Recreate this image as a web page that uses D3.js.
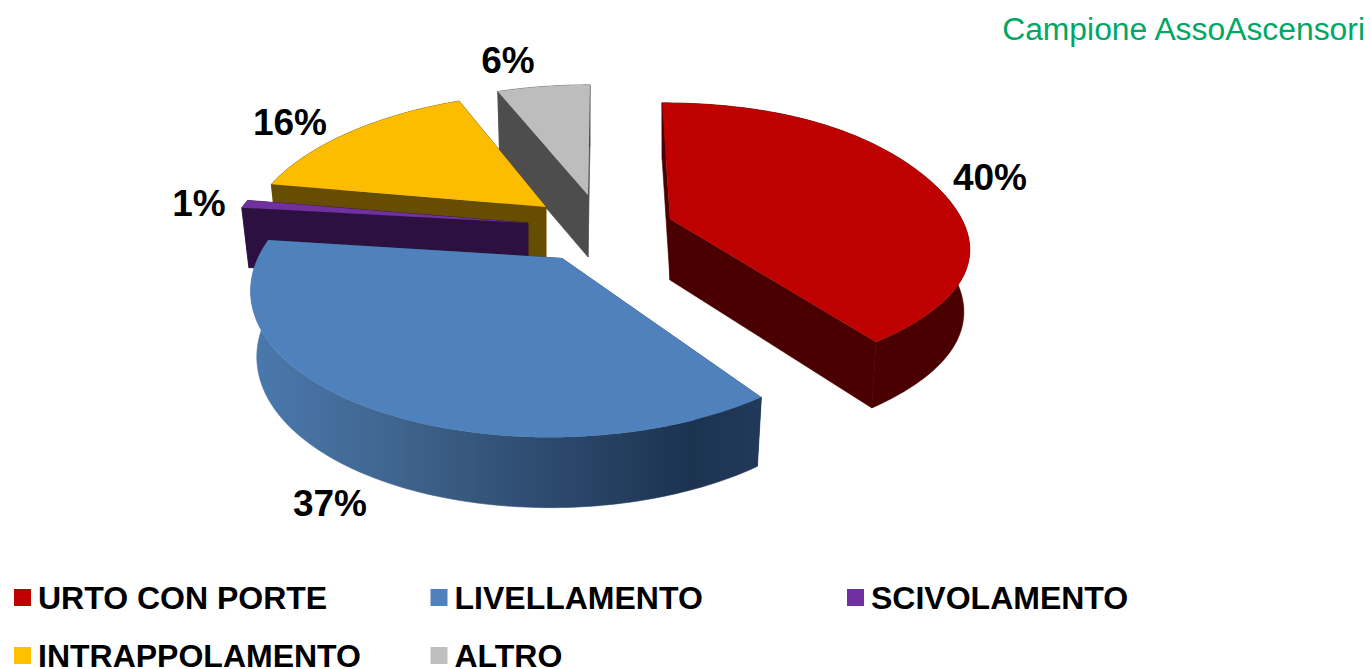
<!DOCTYPE html>
<html>
<head>
<meta charset="utf-8">
<script src="https://cdn.jsdelivr.net/npm/d3@7/dist/d3.min.js"></script>
<style>
  html, body { margin: 0; padding: 0; background: #fff; }
  svg { display: block; }
  text { font-family: "Liberation Sans", Arial, sans-serif; }
</style>
</head>
<body>
<svg id="chart" width="1371" height="669"></svg>
<script>
// Incident causes, share of the sample in percent
const categories = ["URTO CON PORTE", "LIVELLAMENTO", "SCIVOLAMENTO", "INTRAPPOLAMENTO", "ALTRO"];
const shares = [40, 37, 1, 16, 6];
const topColors = ["#bf0000", "#4f81bd", "#7030a0", "#fcbd00", "#bdbdbd"];
const wallColors = ["#4a0000", "url(#rimBlue)", "#2c1040", "#664d00", "#4d4d4d"];
const legendColors = ["#c00000", "#4f81bd", "#7030a0", "#ffc000", "#bfbfbf"];

// Exploded-wedge geometry: apex on screen, radii, lean, wall depth, rim fullness
const wedges = [
  { ax: 670, ay: 219, rx: 290, ry: 133.6, py: 0.15,  lean: 8,   drop: 61, bx: 0.98, by: 1.04, bulge: 0.012 },
  { ax: 562, ay: 258, rx: 304, ry: 147,   py: 0.18,  lean: -12, drop: 65, bx: 0.98,  by: 1.03, bulge: 0 },
  { ax: 528, ay: 223, rx: 295, ry: 125,   py: 0.18,  lean: 0,   drop: 60, bx: 0.975, by: 1,    bulge: 0 },
  { ax: 546, ay: 207, rx: 290, ry: 123,   py: 0.085, lean: -5,  drop: 52, bx: 0.98,  by: 1,    bulge: 0 },
  { ax: 588, ay: 195, rx: 292, ry: 130,   py: 0.18,  lean: -2,  drop: 62, bx: 0.98,  by: 1,    bulge: 0 }
];
const labelSpots = [[990, 190], [330, 516], [199, 216], [290, 135], [508, 73]];
const paintOrder = [4, 3, 2, 1, 0];
const perspective = 0.18;

const svg = d3.select("#chart");

// Shaded rim of the large front wedge
const rimStops = [
  [0, "#4b79ae"], [0.27, "#40668f"], [0.58, "#2d4a6e"], [0.86, "#1c3350"], [1, "#22395a"]
];
svg.append("defs").append("linearGradient")
  .attr("id", "rimBlue")
  .attr("gradientUnits", "userSpaceOnUse")
  .attr("x1", 250).attr("x2", 762).attr("y1", 0).attr("y2", 0)
  .selectAll("stop").data(rimStops).join("stop")
  .attr("offset", d => d[0])
  .attr("stop-color", d => d[1]);

const arcs = d3.pie().sort(null).value(d => d)(shares);
const line = d3.line().x(d => d[0]).y(d => d[1]);

// Project a point of the wedge's disc, angle clockwise from the rear, onto the page
function project(w, angle, radius, lower) {
  const u = radius * Math.sin(angle);
  const v = -radius * Math.cos(angle);
  const x = w.rx * u / (1 - perspective * v) + w.lean * v;
  const y = w.ry * v / (1 - w.py * v);
  return lower
    ? [w.ax + x * w.bx, w.ay + w.drop + y * w.by]
    : [w.ax + x, w.ay + y];
}

// Points along the outer edge; the fullness term swells the rim between the wedge's ends
function rimPoints(w, arc, lower) {
  return d3.range(0, 121).map(i => {
    const t = arc.startAngle + (arc.endAngle - arc.startAngle) * i / 120;
    const swell = 1 + w.bulge * Math.pow(Math.sin(2 * Math.PI * i / 120), 2);
    return project(w, t, swell, lower);
  });
}

function face(w, angle) {
  return [
    project(w, angle, 0, false),
    project(w, angle, 1, false),
    project(w, angle, 1, true),
    project(w, angle, 0, true)
  ];
}

const pieLayer = svg.append("g");
paintOrder.forEach(i => {
  const w = wedges[i], arc = arcs[i];
  const g = pieLayer.append("g");
  const shells = [
    face(w, arc.startAngle),
    face(w, arc.endAngle),
    rimPoints(w, arc, false).concat(rimPoints(w, arc, true).reverse())
  ];
  g.selectAll("path.wall").data(shells).join("path")
    .attr("class", "wall")
    .attr("d", d => line(d) + "Z")
    .attr("fill", (d, k) => (i === 1 && k < 2) ? "#1c3350" : wallColors[i])
    .attr("stroke", (d, k) => (i === 1 && k < 2) ? "none" : wallColors[i])
    .attr("stroke-width", 0.6);
  g.append("path")
    .attr("d", line([project(w, 0, 0, false)].concat(rimPoints(w, arc, false))) + "Z")
    .attr("fill", topColors[i]);
});

// Percentage labels
svg.append("g").selectAll("text").data(shares).join("text")
  .attr("x", (d, i) => labelSpots[i][0])
  .attr("y", (d, i) => labelSpots[i][1])
  .attr("text-anchor", "middle")
  .attr("font-size", 37)
  .attr("font-weight", "bold")
  .attr("fill", "#000")
  .text(d => d + "%");

// Legend, three columns wrapping onto a second row
const legendX = d3.scalePoint().domain([0, 1, 2]).range([14, 847]);
const legendY = d3.scalePoint().domain([0, 1]).range([589, 647]);
const legend = svg.append("g").selectAll("g").data(categories).join("g")
  .attr("transform", (d, i) => `translate(${legendX(i % 3)},${legendY(Math.floor(i / 3))})`);
legend.append("rect")
  .attr("width", 17).attr("height", 17)
  .attr("fill", (d, i) => legendColors[i]);
legend.append("text")
  .attr("x", 24).attr("y", 19.5)
  .attr("font-size", 32)
  .attr("font-weight", "bold")
  .attr("fill", "#000")
  .text(d => d);

svg.append("text")
  .attr("x", 1365).attr("y", 40)
  .attr("text-anchor", "end")
  .attr("font-size", 31.85)
  .attr("fill", "#00a765")
  .text("Campione AssoAscensori");
</script>
</body>
</html>
